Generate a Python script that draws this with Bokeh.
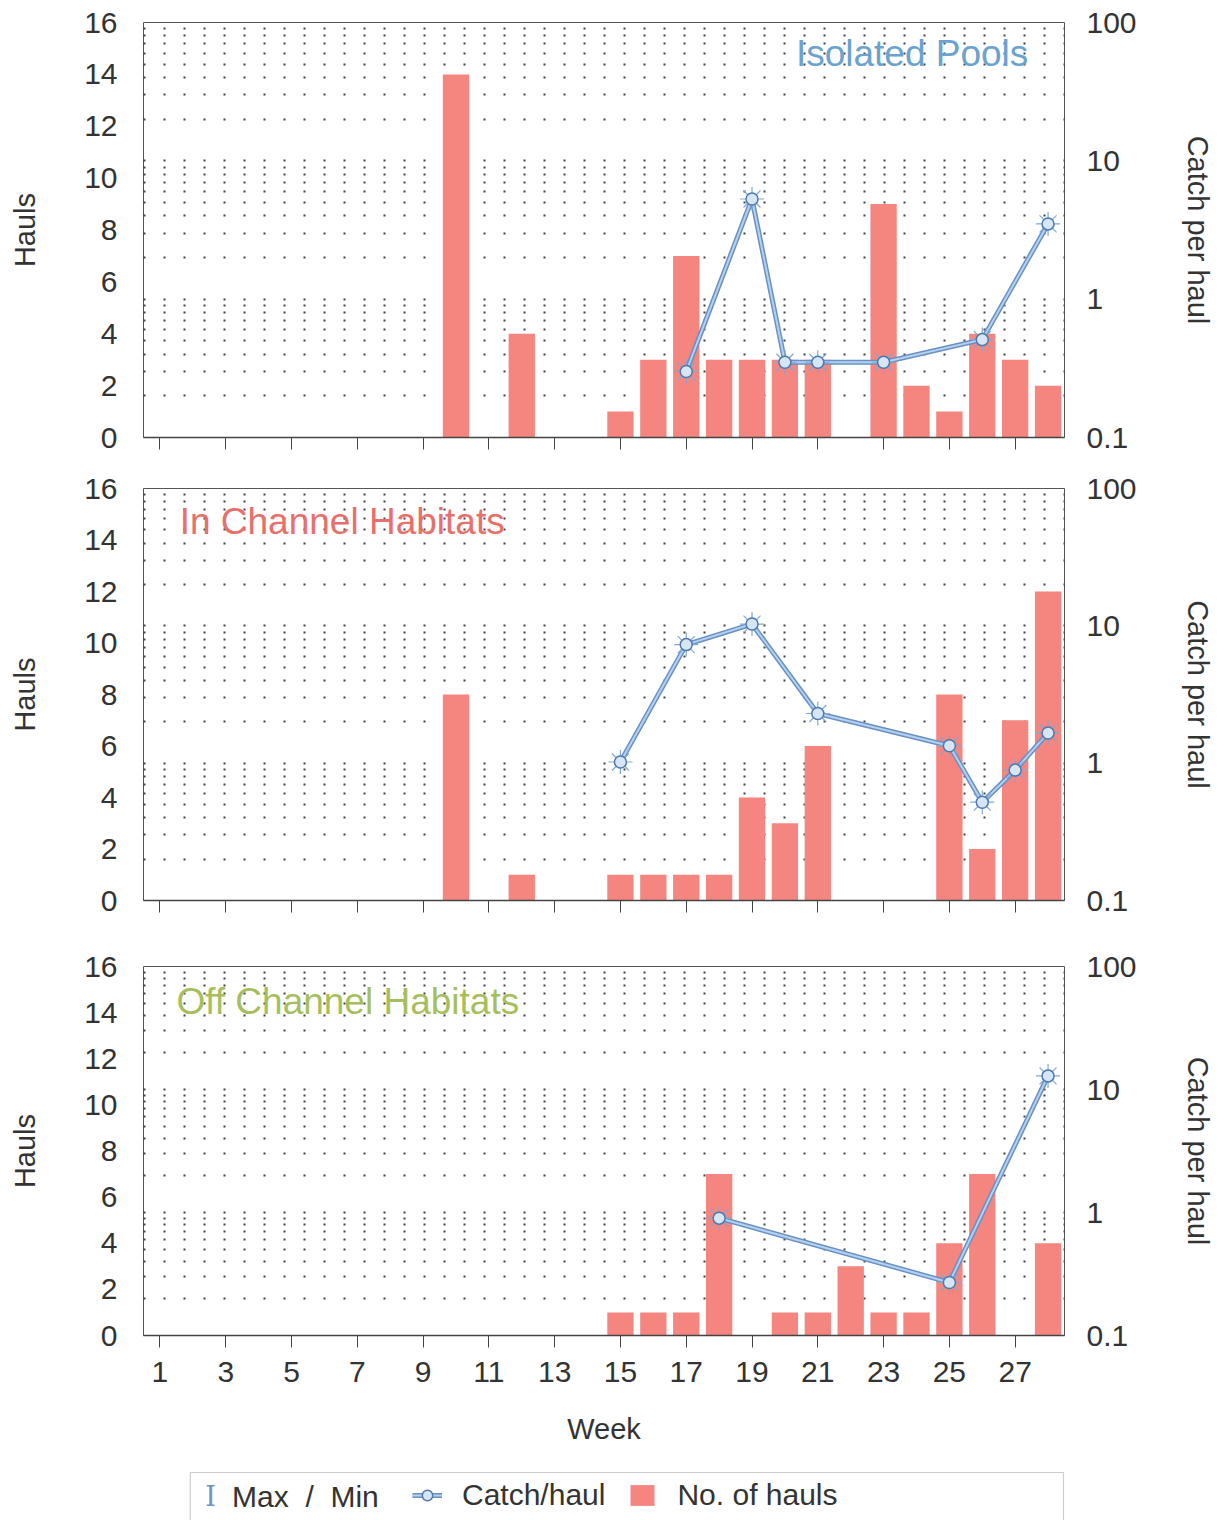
from bokeh.plotting import figure
from bokeh.layouts import column
from bokeh.models import (Range1d, LogScale, LinearAxis, FixedTicker, Grid, Label,
                          Legend, LegendItem, ColumnDataSource, BoxAnnotation)
from bokeh.embed import file_html
from bokeh.resources import INLINE

# ---------------- data ----------------
weeks_axis_ticks = [1, 3, 5, 7, 9, 11, 13, 15, 17, 19, 21, 23, 25, 27]
hauls_ticks = [0, 2, 4, 6, 8, 10, 12, 14, 16]
cph_ticks = [0.1, 1, 10, 100]

iso_bar_weeks = [10, 12, 15, 16, 17, 18, 19, 20, 21, 23, 24, 25, 26, 27, 28]
iso_hauls = [14, 4, 1, 3, 7, 3, 3, 3, 3, 9, 2, 1, 4, 3, 2]
iso_cph_weeks = [17, 19, 20, 21, 23, 26, 28]
iso_cph = [0.30, 5.3, 0.35, 0.35, 0.35, 0.51, 3.5]

inc_bar_weeks = [10, 12, 15, 16, 17, 18, 19, 20, 21, 25, 26, 27, 28]
inc_hauls = [8, 1, 1, 1, 1, 1, 4, 3, 6, 8, 2, 7, 12]
inc_cph_weeks = [15, 17, 19, 21, 25, 26, 27, 28]
inc_cph = [1.02, 7.3, 10.3, 2.3, 1.34, 0.52, 0.89, 1.66]

off_bar_weeks = [15, 16, 17, 18, 20, 21, 22, 23, 24, 25, 26, 28]
off_hauls = [1, 1, 1, 7, 1, 1, 3, 1, 1, 4, 7, 4]
off_cph_weeks = [18, 25, 28]
off_cph = [0.9, 0.27, 12.9]

panels = [
    ("Isolated Pools", "#6aa3cf", iso_bar_weeks, iso_hauls, iso_cph_weeks, iso_cph),
    ("In Channel Habitats", "#e8706a", inc_bar_weeks, inc_hauls, inc_cph_weeks, inc_cph),
    ("Off Channel Habitats", "#a6bf5c", off_bar_weeks, off_hauls, off_cph_weeks, off_cph),
]

# ---------------- styling ----------------
FONT = "Liberation Sans"
BAR = "#f4857f"
TXT = "#333333"
LINE_OUT = "#6a90c4"
LINE_IN = "#b3d2f0"
minor = [m * d for d in (0.1, 1, 10) for m in (2, 3, 4, 5, 6, 7, 8, 9)]

W = 1216
FL, FR = 143, 1068          # frame left / right on the page
heights = [470, 475, 520]
tops = [22, 18, 21]
bottoms = [33, 45, 130]
title_pos = [(27.4, 14.8, "right"), (1.6, 14.7, "left"), (1.5, 14.5, "left")]


def line_renderers(p, src, **kw):
    l1 = p.line("x", "y", source=src, line_color=LINE_OUT, line_width=5, **kw)
    l2 = p.line("x", "y", source=src, line_color=LINE_IN, line_width=2, **kw)
    m1 = p.scatter("x", "y", source=src, marker="asterisk", size=24,
                   line_color="#7ea9d8", line_width=1.2, **kw)
    m2 = p.scatter("x", "y", source=src, marker="circle", size=12,
                   fill_color="#d5e7f7", line_color="#4f78ad", line_width=1.5, **kw)
    return [l1, l2, m1, m2]


figs = []
sources = []
for i, (title, tcolor, bw, bh, cw, cv) in enumerate(panels):
    p = figure(width=W, height=heights[i], output_backend="svg", toolbar_location=None,
               x_range=Range1d(0.5, 28.5), y_range=Range1d(0, 16),
               min_border_left=FL, min_border_right=W - FR,
               min_border_top=tops[i], min_border_bottom=bottoms[i])
    p.extra_y_ranges = {"log": Range1d(0.1, 100)}
    p.extra_y_scales = {"log": LogScale()}
    p.outline_line_color = "#555555"
    p.outline_line_width = 1
    p.xgrid.visible = False
    p.ygrid.visible = False

    # left axis
    ya = p.yaxis[0]
    ya.ticker = FixedTicker(ticks=hauls_ticks)
    ya.axis_label = "Hauls"
    ya.axis_label_text_font = FONT
    ya.axis_label_text_font_size = "29px"
    ya.axis_label_text_font_style = "normal"
    ya.axis_label_text_color = TXT
    ya.axis_label_standoff = 40
    ya.major_label_text_font = FONT
    ya.major_label_text_font_size = "30px"
    ya.major_label_text_color = TXT
    ya.major_label_standoff = 20
    ya.major_tick_line_color = None
    ya.minor_tick_line_color = None
    ya.axis_line_color = None

    # right log axis
    rticker = FixedTicker(ticks=cph_ticks, minor_ticks=minor)
    ra = LinearAxis(y_range_name="log", ticker=rticker, axis_label="Catch per haul")
    ra.axis_label_text_font = FONT
    ra.axis_label_text_font_size = "29px"
    ra.axis_label_text_font_style = "normal"
    ra.axis_label_text_color = TXT
    ra.axis_label_standoff = 42
    ra.major_label_text_font = FONT
    ra.major_label_text_font_size = "30px"
    ra.major_label_text_color = TXT
    ra.major_label_standoff = 16
    ra.major_tick_line_color = None
    ra.minor_tick_line_color = None
    ra.axis_line_color = None
    p.add_layout(ra, "right")

    g = Grid(dimension=1, ticker=rticker, y_range_name="log",
             grid_line_color="#222222", grid_line_dash="2 18", grid_line_width=2,
             minor_grid_line_color="#222222", minor_grid_line_dash="2 18",
             minor_grid_line_width=2, grid_line_alpha=0.85, minor_grid_line_alpha=0.85)
    p.add_layout(g)

    # bottom axis
    xa = p.xaxis[0]
    xa.ticker = FixedTicker(ticks=weeks_axis_ticks)
    xa.major_tick_out = 12
    xa.major_tick_in = 0
    xa.major_tick_line_color = "#444444"
    xa.minor_tick_line_color = None
    xa.axis_line_color = "#444444"
    xa.axis_line_width = 1.5
    xa.major_label_text_font = FONT
    xa.major_label_text_color = TXT
    if i < 2:
        xa.major_label_overrides = {t: "" for t in weeks_axis_ticks}
    else:
        xa.major_label_text_font_size = "30px"
        xa.major_label_standoff = 14
        xa.axis_label = "Week"
        xa.axis_label_text_font = FONT
        xa.axis_label_text_font_size = "29px"
        xa.axis_label_text_font_style = "normal"
        xa.axis_label_text_color = TXT
        xa.axis_label_standoff = 28

    bsrc = ColumnDataSource(dict(x=bw, top=bh))
    p.vbar(x="x", top="top", source=bsrc, width=0.8, bottom=0, fill_color=BAR, line_color=None)
    src = ColumnDataSource(dict(x=cw, y=cv))
    line_renderers(p, src, y_range_name="log")
    sources.append((bsrc, src))

    tx, ty, al = title_pos[i]
    p.add_layout(Label(x=tx, y=ty, text=title, text_align=al, text_baseline="middle",
                       text_font=FONT, text_font_size="37px", text_color=tcolor))
    figs.append(p)

# ---------------- legend strip ----------------
# x in page pixels (frame aligned with panels); y offset so the data stays out of view
LH = 55
Y0 = 1000
lg = figure(width=W, height=LH, output_backend="svg", toolbar_location=None,
            x_range=Range1d(FL, FR), y_range=Range1d(Y0, Y0 + LH),
            min_border_left=FL, min_border_right=W - FR, min_border_top=0, min_border_bottom=0)
lg.axis.visible = False
lg.grid.visible = False
lg.outline_line_color = None
lg.add_layout(BoxAnnotation(left=190, right=FR - 1, bottom=Y0 - 20, top=Y0 + 48,
                            fill_color=None, line_color="#555555", line_width=1.2))
lg.add_layout(Label(x=205, y=Y0 + 24, text="I", text_align="left", text_baseline="middle",
                    text_font="DejaVu Serif", text_font_size="27px", text_color="#6f93c4"))
lg.add_layout(Label(x=232, y=Y0 + 24, text="Max \u00a0/ \u00a0Min", text_align="left",
                    text_baseline="middle", text_font=FONT, text_font_size="30px", text_color=TXT))
bsrc3, src3 = sources[2]
cat_r = line_renderers(lg, src3)
bar_r = lg.vbar(x="x", top="top", source=bsrc3, width=0.8, bottom=0,
                fill_color=BAR, line_color=None)
legend = Legend(items=[LegendItem(label="Catch/haul", renderers=cat_r),
                       LegendItem(label="No. of hauls", renderers=[bar_r])],
                orientation="horizontal", location=(412 - FL, 8),
                label_text_font=FONT, label_text_font_size="30px", label_text_color=TXT,
                glyph_width=30, glyph_height=26, spacing=22, padding=0, margin=0,
                border_line_color=None, background_fill_alpha=0, label_standoff=20)
lg.add_layout(legend)
figs.append(lg)

layout = column(*figs, spacing=0)
open("out.html", "w").write(file_html(layout, INLINE))
